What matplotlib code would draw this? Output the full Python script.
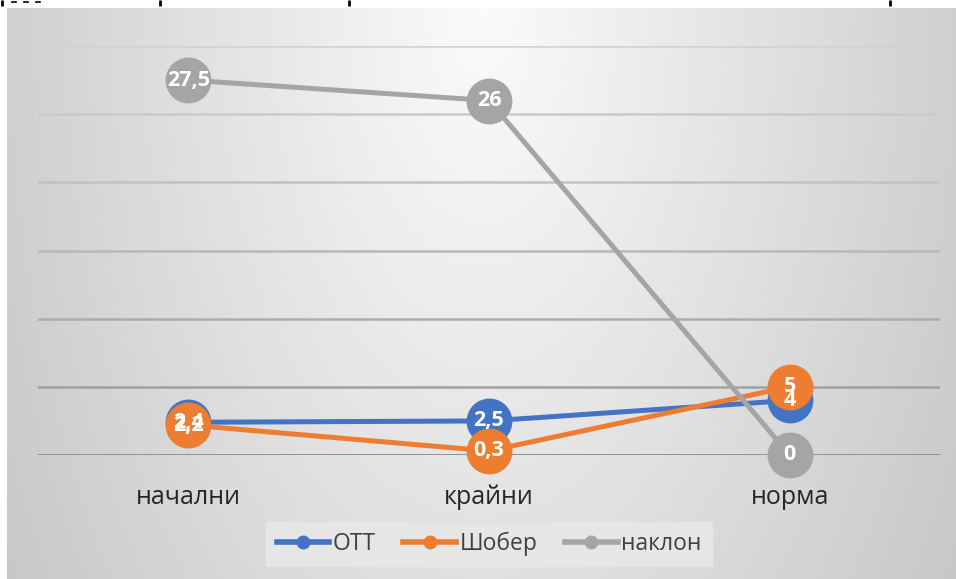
import numpy as np
import matplotlib
matplotlib.use("Agg")
import matplotlib.pyplot as plt
from matplotlib.lines import Line2D
from matplotlib.transforms import blended_transform_factory

categories = ["начални", "крайни", "норма"]
series_names = ["ОТТ", "Шобер", "наклон"]
ott = [2.4, 2.5, 4]
shober = [2.2, 0.3, 5]
naklon = [27.5, 26, 0]
y_ticks = [0, 5, 10, 15, 20, 25, 30]

colors = ["#4472C4", "#ED7D31", "#A5A5A5"]
W, H = 956, 579
fig = plt.figure(figsize=(W / 100, H / 100), dpi=100)
fig.patch.set_facecolor("white")

# radial grey background of the chart area
bg = fig.add_axes([0, 0, 1, 1])
bg.set_xlim(0, W)
bg.set_ylim(H, 0)
bg.axis("off")
x0, y0 = 7, 8
xs = np.linspace(0, 1, 400)
ys = np.linspace(0, 1, 300)
X, Y = np.meshgrid(xs, ys)
d = np.sqrt(((X - 0.5) / 0.5) ** 2 + (Y / 1.6) ** 2)
v = 0.985 - 0.17 * np.clip(d, 0, 1.2)
img = np.dstack([v, v, v])
bg.imshow(img, extent=(x0, W, H, y0), aspect="auto", interpolation="bilinear")

# fragments of the caption line above the chart
for xp in [2, 160, 349, 890]:
    bg.plot([xp, xp], [0, 6], color="black", lw=2, solid_capstyle="butt")
for xp in [14, 26, 38]:
    bg.plot([xp - 2, xp + 2], [2, 2], color="black", lw=1.2)

# plotting area
L, R, T, B = 38, 940, 46, 455
ax = fig.add_axes([L / W, 1 - B / H, (R - L) / W, (B - T) / H])
ax.patch.set_alpha(0)
ax.set_xlim(-0.5, 2.5)
ax.set_ylim(0, 30)
for s in ax.spines.values():
    s.set_visible(False)
ax.set_yticks([])
ax.set_xticks([])
grid_cols = ["#a0a0a0", "#acacac", "#b8b8b8", "#c2c2c2", "#cacaca", "#d2d2d2"]
for t, gc in zip(y_ticks[1:], grid_cols):
    ax.axhline(t, color=gc, lw=1.8, zorder=1)
ax.axhline(0, color="#8a8a8a", lw=2.0, zorder=1)

x = np.arange(len(categories))
trans = blended_transform_factory(ax.transData, ax.transAxes)
for xi, cat in zip(x, categories):
    ax.text(xi, -(497 - B) / (B - T), cat, transform=trans, ha="center",
            va="center", fontsize=18, color="#262626", family="Open Sans")

all_series = [ott, shober, naklon]
for vals, c, name in zip(all_series, colors, series_names):
    ax.plot(x, vals, color=c, lw=3.6, marker="o", markersize=32,
            markerfacecolor=c, markeredgecolor=c, zorder=3, clip_on=False,
            label=name)
for vals in all_series:
    for xi, val in zip(x, vals):
        lab = f"{val:g}".replace(".", ",")
        ax.text(xi, val, lab, ha="center", va="center", color="white",
                fontsize=15.5, fontweight="bold", family="Open Sans", zorder=5)

handles = [Line2D([0], [0], color=c, lw=4, marker="o", markersize=9)
           for c in colors]
leg = fig.legend(handles, series_names, loc="center",
                 bbox_to_anchor=(489 / W, 1 - 544 / H), ncol=3,
                 frameon=True, fancybox=False,
                 prop={"family": "Open Sans", "size": 16.5},
                 handlelength=2.3, handletextpad=0.15, columnspacing=1.2,
                 borderpad=0.45, borderaxespad=0)
leg.get_frame().set_facecolor("#e6e6e6")
leg.get_frame().set_edgecolor("#e6e6e6")
leg.get_frame().set_alpha(1)
for t in leg.get_texts():
    t.set_color("#404040")

fig.savefig("out.png", dpi=100)
